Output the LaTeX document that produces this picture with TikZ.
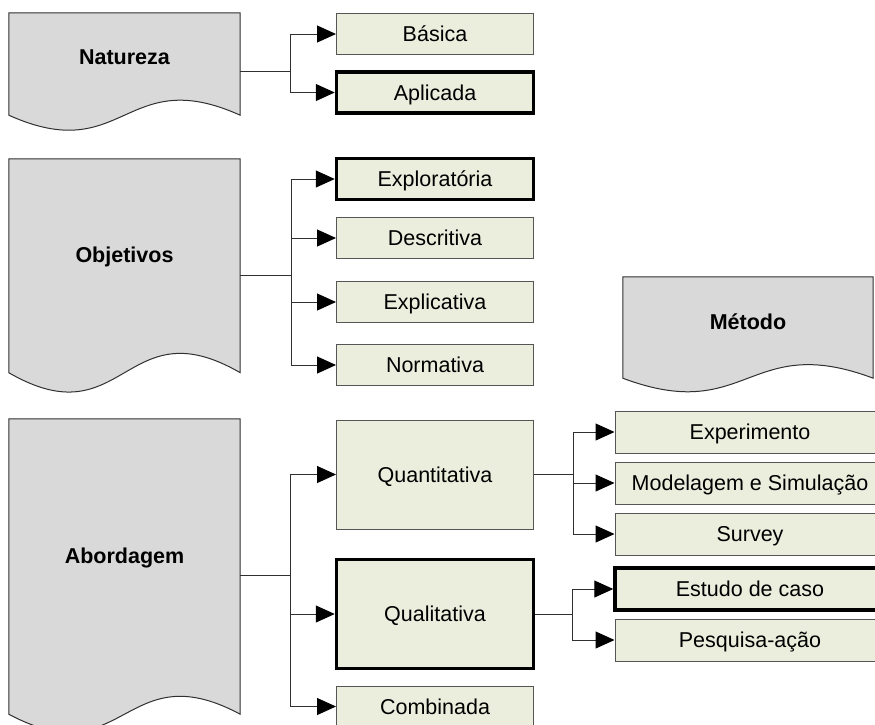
\documentclass[tikz,border=0pt]{standalone}
\usepackage{fontspec}
\setmainfont{Liberation Sans}
\usetikzlibrary{arrows.meta,calc}
\definecolor{docfill}{HTML}{D9D9D9}
\definecolor{boxfill}{HTML}{EBEEDD}
\definecolor{boxline}{HTML}{555555}
\definecolor{docline}{HTML}{303030}
\definecolor{connline}{HTML}{303030}
\newcommand\docshape[3]{%
  \filldraw[fill=docfill, draw=docline, line width=1pt]
    (#1.north west) -- (#1.north east) -- ($(#1.south east)+(0,-#2)$)
    .. controls ($(#1.south)+(0,-#2-#3)$) and ($(#1.south)+(0,-#2+#3)$) .. ($(#1.south west)+(0,-#2)$) -- cycle;}
\tikzset{
  basefont/.style={font=\fontsize{21.5}{26}\selectfont, text height=15.4pt, text depth=0pt},
  docbox/.style={draw=none, inner sep=0pt, minimum width=231pt},
  doctext/.style={basefont, font=\fontsize{21.5}{26}\selectfont\bfseries, inner sep=0pt},
  leaf/.style={basefont, draw=boxline, fill=boxfill, line width=1pt, inner sep=0pt,
               minimum width=197pt, minimum height=41pt},
  wide/.style={minimum width=270pt, minimum height=42pt},
  tall/.style={minimum height=109pt},
  chosen/.style={draw=black, line width=3.5pt},
  conn/.style={draw=connline, line width=1pt, -{Triangle[length=19pt,width=17pt,black]}},
}
\begin{document}
\begin{tikzpicture}[x=1pt, y=-1pt]
\useasboundingbox (0,0) rectangle (875,724);
\clip (0,0) rectangle (875,724);

% document-shaped headers
\node[docbox, minimum height=117pt] (nat) at (124.5,71.5) {};
\node[docbox, minimum height=233pt] (obj) at (124.5,275.5) {};
\node[docbox, minimum height=313pt] (abo) at (124.5,575.5) {};
\node[docbox, minimum width=250pt, minimum height=115pt] (met) at (748,334.5) {};
\docshape{nat}{15}{52}
\docshape{obj}{19.5}{67}
\docshape{abo}{18}{62}
\docshape{met}{14}{47}
\node[doctext] (natT) at (124.5,57) {Natureza};
\node[doctext] (objT) at (124.5,255) {Objetivos};
\node[doctext] (aboT) at (124.5,556) {Abordagem};
\node[doctext] (metT) at (748,322) {Método};

% Natureza
\node[leaf] (bas) at (435,34) {Básica};
\node[leaf, chosen] (apl) at (435,92.5) {Aplicada};
% Objetivos
\node[leaf, chosen] (explo) at (435,179) {Exploratória};
\node[leaf] (desc) at (435,238) {Descritiva};
\node[leaf] (expli) at (435,302) {Explicativa};
\node[leaf] (norm) at (435,365) {Normativa};
% Abordagem
\node[leaf, tall] (quant) at (435,474.5) {Quantitativa};
\node[leaf, tall, chosen] (qual) at (435,614) {Qualitativa};
\node[leaf] (comb) at (435,706.5) {Combinada};
% Métodos
\node[leaf, wide] (expe) at (750,432) {Experimento};
\node[leaf, wide] (mode) at (750,483) {Modelagem e Simulação};
\node[leaf, wide] (surv) at (750,534) {Survey};
\node[leaf, wide, chosen] (estu) at (750,589) {Estudo de caso};
\node[leaf, wide] (pesq) at (750,640) {Pesquisa-ação};

% connectors
\draw[conn] (nat.east) -- ++(50,0) |- (bas.west);
\draw[conn] (nat.east) -- ++(50,0) |- (apl.west);
\draw[conn] (obj.east) -- ++(51,0) |- (explo.west);
\draw[conn] (obj.east) -- ++(51,0) |- (desc.west);
\draw[conn] (obj.east) -- ++(51,0) |- (expli.west);
\draw[conn] (obj.east) -- ++(51,0) |- (norm.west);
\draw[conn] (abo.east) -- ++(50,0) |- (quant.west);
\draw[conn] (abo.east) -- ++(50,0) |- (qual.west);
\draw[conn] (abo.east) -- ++(50,0) |- (comb.west);
\draw[conn] (quant.east) -- ++(39,0) |- (expe.west);
\draw[conn] (quant.east) -- ++(39,0) |- (mode.west);
\draw[conn] (quant.east) -- ++(39,0) |- (surv.west);
\draw[conn] (qual.east) -- ++(37,0) |- (estu.west);
\draw[conn] (qual.east) -- ++(37,0) |- (pesq.west);
\end{tikzpicture}
\end{document}
